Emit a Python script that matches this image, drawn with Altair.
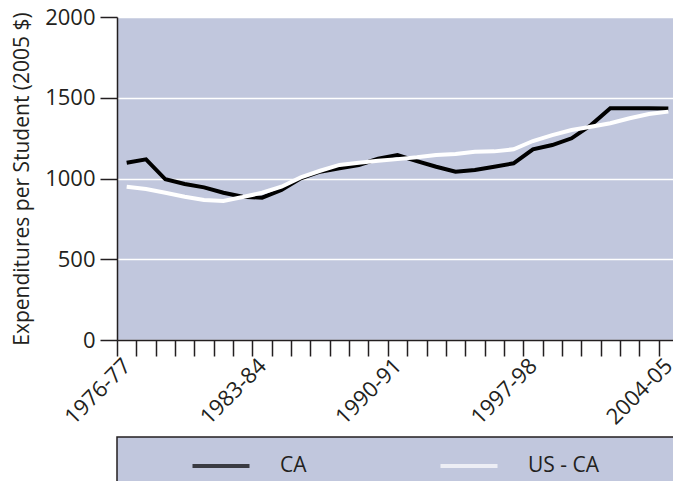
import json
import altair as alt
import pandas as pd

years = ["1976-77", "1977-78", "1978-79", "1979-80", "1980-81", "1981-82", "1982-83",
         "1983-84", "1984-85", "1985-86", "1986-87", "1987-88", "1988-89", "1989-90",
         "1990-91", "1991-92", "1992-93", "1993-94", "1994-95", "1995-96", "1996-97",
         "1997-98", "1998-99", "1999-00", "2000-01", "2001-02", "2002-03", "2003-04",
         "2004-05"]
ca = [1098, 1119, 995, 966, 945, 912, 887, 881, 929, 1001, 1042, 1063, 1084, 1122,
      1145, 1108, 1073, 1042, 1053, 1073, 1094, 1181, 1207, 1249, 1331, 1435, 1435,
      1435, 1433]
us_ca = [949, 935, 912, 887, 867, 861, 885, 912, 949, 1007, 1048, 1084, 1098, 1110,
         1120, 1131, 1145, 1152, 1166, 1168, 1181, 1232, 1269, 1300, 1321, 1342, 1373,
         1399, 1414]
series = ["CA", "US - CA"]
series_colors = ["#000000", "#FFFFFF"]
shown_labels = ["1976-77", "1983-84", "1990-91", "1997-98", "2004-05"]
y_ticks = [0, 500, 1000, 1500, 2000]

FONT = "Open Sans"
INK = "#231F20"
PANEL = "#C1C7DD"

rows = []
for name, vals in zip(series, [ca, us_ca]):
    for yr, v in zip(years, vals):
        rows.append({"year": yr, "value": v, "series": name})
df = pd.DataFrame(rows)

color_scale = alt.Scale(domain=series, range=series_colors)

label_expr = "indexof(" + json.dumps(shown_labels) + ", datum.label) >= 0 ? datum.label : ''"

main = alt.Chart(df).mark_line(strokeWidth=4).encode(
    x=alt.X("year:O", sort=years,
            scale=alt.Scale(type="band", paddingInner=0, paddingOuter=0),
            axis=alt.Axis(title=None, tickBand="extent", tickSize=16, tickColor=INK,
                          tickWidth=1.5, domainColor=INK, domainWidth=1.5,
                          labelAngle=315, labelAlign="right", labelBaseline="middle",
                          labelPadding=6, labelFontSize=22, labelFont=FONT,
                          labelColor=INK, labelExpr=label_expr, labelOverlap=False,
                          grid=False)),
    y=alt.Y("value:Q", scale=alt.Scale(domain=[0, 2000], nice=False),
            axis=alt.Axis(values=y_ticks, format="d",
                          title="Expenditures per Student (2005 $)",
                          titleFontSize=21, titleFont=FONT, titleFontWeight="normal",
                          titleColor=INK, titlePadding=12,
                          labelFontSize=22, labelFont=FONT, labelColor=INK,
                          labelPadding=5, tickSize=17, tickColor=INK, tickWidth=1.5,
                          domainColor=INK, domainWidth=1.5,
                          grid=True, gridColor="#FFFFFF", gridWidth=1.5)),
    color=alt.Color("series:N", scale=color_scale, legend=None),
).properties(width=561, height=323,
             view=alt.ViewBackground(fill=PANEL, stroke="transparent"))

leg_df = pd.DataFrame({"series": series})
leg_x = alt.X("series:N", sort=series,
              scale=alt.Scale(type="point", domain=series, range=[104, 352], padding=0),
              axis=None)
leg_sym = alt.Chart(leg_df).mark_tick(orient="horizontal", size=57, thickness=4).encode(
    x=leg_x, y=alt.value(29),
    color=alt.Color("series:N", scale=color_scale, legend=None),
)
leg_txt = alt.Chart(leg_df).mark_text(align="left", baseline="middle", dx=59,
                                      fontSize=21, font=FONT, color=INK).encode(
    x=leg_x, y=alt.value(29), text="series:N",
)
legend_panel = alt.layer(leg_sym, leg_txt).properties(
    width=640, height=120,
    view=alt.ViewBackground(fill=PANEL, stroke=INK, strokeWidth=1.5))

chart = alt.vconcat(main, legend_panel, spacing=7).properties(
    autosize=alt.AutoSizeParams(type="none"),
    padding={"left": 109, "top": 9, "right": 556, "bottom": 464},
    background="#FFFFFF",
).configure_view(stroke="transparent")

chart.save("out.html", embed_options={"renderer": "svg", "actions": False})
